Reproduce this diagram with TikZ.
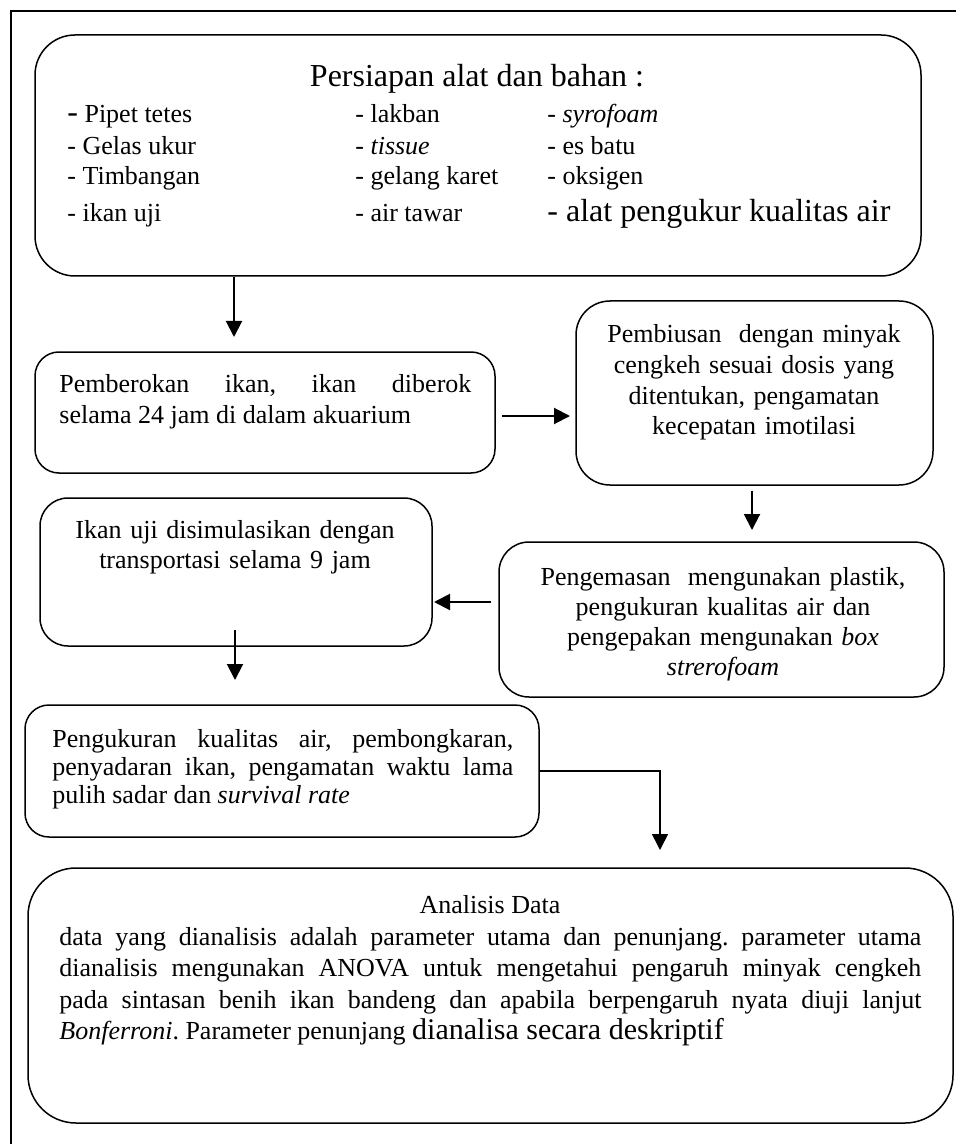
\documentclass[tikz,border=0pt]{standalone}
\usepackage{fontspec}
\setmainfont{Liberation Serif}
\usepackage{tikz}
\usetikzlibrary{arrows.meta}
\frenchspacing

\tikzset{
  kotak/.style={draw, line width=0.75pt, rounded corners=#1, inner sep=0pt},
  kotak/.default=12pt,
  panah/.style={line width=1pt, -{Triangle[length=8pt,width=8pt]}},
  teks/.style={inner sep=0pt, font=\fontsize{13}{15.5}\selectfont},
}

\begin{document}
\begin{tikzpicture}[x=0.5pt, y=-0.5pt]
  \useasboundingbox (0,0) rectangle (956,1144);

  % Bingkai halaman
  \draw[line width=0.75pt] (11,1144) -- (11,11) -- (956,11);

  % Kotak-kotak alur
  \node[kotak=20pt, minimum width=443pt, minimum height=120.5pt] (prep)  at (478,155.5) {};
  \node[kotak=12pt, minimum width=230pt, minimum height=60.5pt]  (berok) at (265,412.5) {};
  \node[kotak=17pt, minimum width=178.5pt, minimum height=92pt]  (bius)  at (754.5,393) {};
  \node[kotak=15pt, minimum width=222.5pt, minimum height=77.5pt] (kemas) at (721.5,619.5) {};
  \node[kotak=14pt, minimum width=196pt, minimum height=74pt]    (sim)   at (236,572) {};
  \node[kotak=12pt, minimum width=257pt, minimum height=66pt]    (ukur)  at (282,771) {};
  \node[kotak=24pt, minimum width=462.5pt, minimum height=127.5pt] (anal) at (490.5,995.5) {};

  % Persiapan alat dan bahan
  \node[teks, font=\fontsize{16}{19}\selectfont, anchor=base] (judul) at (477,87) {Persiapan alat dan bahan :};
  \node[teks, anchor=base west] (a1) at (67,123) {{\fontsize{16}{19}\selectfont -} Pipet tetes};
  \node[teks, anchor=base west] (a2) at (67,155) {- Gelas ukur};
  \node[teks, anchor=base west] (a3) at (67,185) {- Timbangan};
  \node[teks, anchor=base west] (a4) at (67,222) {- ikan uji};
  \node[teks, anchor=base west] (b1) at (355,123) {- lakban};
  \node[teks, anchor=base west] (b2) at (355,155) {- \textit{tissue}};
  \node[teks, anchor=base west] (b3) at (355,185) {- gelang karet};
  \node[teks, anchor=base west] (b4) at (355,222) {- air tawar};
  \node[teks, anchor=base west] (c1) at (547,123) {- \textit{syrofoam}};
  \node[teks, anchor=base west] (c2) at (547,155) {- es batu};
  \node[teks, anchor=base west] (c3) at (547,185) {- oksigen};
  \node[teks, font=\fontsize{16}{19}\selectfont, anchor=base west] (c4) at (547,222) {- alat pengukur kualitas air};

  % Isi kotak
  \node[teks, text width=206pt, align=justify, anchor=base west] (tberok) at (59,392)
    {Pemberokan ikan, ikan diberok\linebreak selama 24 jam di dalam akuarium};
  \node[teks, font=\fontsize{13}{15.3}\selectfont, text width=178pt, align=center, anchor=base] (tbius) at (754,343)
    {Pembiusan~ dengan minyak\\ cengkeh sesuai dosis yang\\ ditentukan, pengamatan\\ kecepatan imotilasi};
  \node[teks, font=\fontsize{13}{15}\selectfont, text width=222pt, align=center, anchor=base] (tkemas) at (723,585)
    {Pengemasan~ mengunakan plastik,\\ pengukuran kualitas air dan\\ pengepakan mengunakan \textit{box}\\ \textit{strerofoam}};
  \node[teks, font=\fontsize{13}{15}\selectfont, text width=196pt, align=center, anchor=base] (tsim) at (235,538)
    {Ikan uji disimulasikan dengan\\ transportasi selama 9 jam};
  \node[teks, font=\fontsize{13}{14}\selectfont, text width=230.5pt, align=justify, anchor=base west] (tukur) at (52,747)
    {Pengukuran kualitas air, pembongkaran,\linebreak penyadaran ikan, pengamatan waktu lama\linebreak pulih sadar dan \textit{survival rate}};
  \node[teks, anchor=base] (tanal) at (490,913) {Analisis Data};
  \node[teks, font=\fontsize{13}{15.8}\selectfont, text width=431pt, align=justify, anchor=base west] (panal) at (59,945)
    {data yang dianalisis adalah parameter utama dan penunjang. parameter utama\linebreak
     dianalisis mengunakan ANOVA untuk mengetahui pengaruh minyak cengkeh\linebreak
     pada sintasan benih ikan bandeng dan apabila berpengaruh nyata diuji lanjut\linebreak
     \textit{Bonferroni}. Parameter penunjang {\fontsize{15}{15.8}\selectfont dianalisa secara deskriptif}};

  % Panah
  \coordinate (t1) at (234,337);
  \draw[panah] (prep.south -| t1) -- (t1);
  \coordinate (t2) at (570,416);
  \draw[panah, shorten <=3pt] (berok.east |- t2) -- (t2);
  \coordinate (t3) at (752,530);
  \draw[panah, shorten <=2.5pt] (bius.south -| t3) -- (t3);
  \coordinate (t4) at (434,602);
  \draw[panah, shorten <=3.5pt] (kemas.west |- t4) -- (t4);
  \coordinate (s5) at (235,630);
  \coordinate (t5) at (235,680);
  \draw[panah] (s5) -- (t5);
  \coordinate (t6) at (660,850);
  \draw[panah, line width=0.8pt] (ukur.east) -| (t6);
\end{tikzpicture}
\end{document}
